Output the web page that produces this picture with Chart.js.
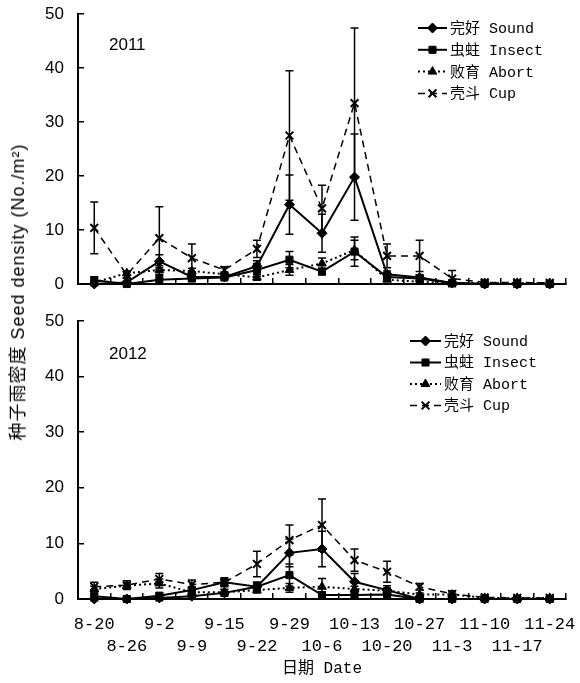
<!DOCTYPE html>
<html lang="zh">
<head>
<meta charset="UTF-8">
<title>种子雨密度</title>
<script src="https://cdn.jsdelivr.net/npm/chart.js@4"></script>
<style>
    body { margin: 0; background: #fff; }
    .wrap { position: relative; width: 580px; height: 683px; overflow: hidden; }
    .panel { position: absolute; left: 0; }
    .year { position: absolute; left: 109px; font: 17px 'Liberation Sans', Arial, sans-serif; line-height: 20px; }
    #ytitle {
        position: absolute; left: 16px; top: 292px;
        transform: translate(-50%, -50%) rotate(-90deg);
        white-space: nowrap; letter-spacing: 1px;
        font: 18px 'Liberation Sans', 'Noto Sans CJK SC', sans-serif;
    }
</style>
</head>
<body>
<div class="wrap">
    <canvas id="top" class="panel" style="top:0" width="580" height="300"></canvas>
    <canvas id="bottom" class="panel" style="top:300px" width="580" height="383"></canvas>
    <div class="year" style="top:35px">2011</div>
    <div class="year" style="top:344px">2012</div>
    <div id="ytitle">种子雨密度 Seed density (No./m²)</div>
</div>
<script>
// sampling dates
const dates = ['8-20', '8-26', '9-2', '9-9', '9-15', '9-22', '9-29', '10-6', '10-13', '10-20', '10-27', '11-3', '11-10', '11-17', '11-24'];
const seriesNames = ['完好 Sound', '虫蛀 Insect', '败育 Abort', '壳斗 Cup'];
const yTicks = [0, 10, 20, 30, 40, 50];

// 2011
const sound2011 = [0, 0.3, 4.2, 1.3, 1.3, 3.3, 14.7, 9.4, 19.8, 1.8, 1.2, 0.2, 0, 0, 0];
const soundErr2011 = [0.3, 0.2, 1.2, 0.4, 0.3, 1.0, 5.5, 3.5, 8.0, 0.6, 0.5, 0.2, 0, 0, 0];
const insect2011 = [0.7, 0, 0.8, 1.0, 1.2, 2.6, 4.5, 2.3, 6.0, 1.3, 1.0, 0.2, 0, 0, 0];
const insectErr2011 = [0.6, 0.2, 0.8, 0.5, 0.3, 1.2, 1.5, 0.6, 2.7, 0.8, 0.6, 0.2, 0, 0, 0];
const abort2011 = [0.3, 2.0, 2.6, 2.4, 1.8, 1.2, 2.6, 3.8, 6.3, 0.8, 0.4, 0.2, 0.2, 0.2, 0.2];
const abortErr2011 = [0.2, 0.4, 0.8, 0.5, 0.4, 0.5, 1.0, 1.0, 1.8, 0.3, 0.3, 0.2, 0.1, 0.1, 0.1];
const cup2011 = [10.4, 1.7, 8.5, 4.8, 2.6, 6.5, 27.5, 14.0, 33.5, 5.2, 5.2, 1.0, 0.3, 0.3, 0.2];
const cupErr2011 = [4.8, 0.6, 5.8, 2.6, 0.6, 1.6, 12.0, 4.3, 13.9, 2.2, 2.9, 1.5, 0.3, 0.3, 0.2];

// 2012
const sound2012 = [0, 0, 0.2, 0.5, 1.1, 2.2, 8.3, 9.0, 3.1, 1.6, 0, 0, 0, 0, 0];
const soundErr2012 = [0.3, 0.3, 0.5, 0.5, 0.6, 0.8, 2.5, 3.2, 1.5, 0.8, 0.3, 0.3, 0.2, 0.2, 0.2];
const insect2012 = [0.5, 0, 0.6, 1.6, 3.0, 2.2, 4.3, 0.7, 0.7, 0.8, 0, 0, 0, 0, 0];
const insectErr2012 = [0.5, 0.3, 0.5, 0.5, 0.8, 0.8, 2.0, 0.5, 0.5, 0.5, 0.3, 0.3, 0.2, 0.2, 0.2];
const abort2012 = [1.8, 2.4, 2.8, 1.2, 1.2, 1.6, 2.0, 2.2, 1.8, 1.5, 0.8, 0.8, 0.2, 0.2, 0.2];
const abortErr2012 = [0.5, 0.5, 0.8, 0.5, 0.5, 0.5, 0.8, 1.5, 0.5, 0.5, 0.3, 0.3, 0.2, 0.2, 0.2];
const cup2012 = [2.2, 2.5, 3.6, 2.6, 3.0, 6.3, 10.6, 13.3, 7.0, 4.9, 2.2, 0.9, 0.3, 0.2, 0.2];
const cupErr2012 = [0.8, 0.8, 1.0, 0.8, 0.6, 2.3, 2.7, 4.7, 2.0, 1.9, 0.6, 0.6, 0.3, 0.2, 0.2];

const monoFont = "'Liberation Mono', 'Noto Sans CJK SC', monospace";

// vertical error bars, drawn through the chart's own scales
const errorBars = {
    id: 'errorBars',
    afterDatasetsDraw(chart) {
        const ctx = chart.ctx, xs = chart.scales.x, ys = chart.scales.y;
        chart.data.datasets.forEach(ds => {
            if (!ds.errors) return;
            ctx.save();
            ctx.strokeStyle = '#000';
            ctx.lineWidth = 1.5;
            ds.data.forEach((v, i) => {
                const e = ds.errors[i];
                if (!e) return;
                const px = xs.getPixelForValue(i);
                const hi = ys.getPixelForValue(v + e), lo = ys.getPixelForValue(v - e);
                ctx.beginPath();
                ctx.moveTo(px, hi); ctx.lineTo(px, lo);
                ctx.moveTo(px - 4, hi); ctx.lineTo(px + 4, hi);
                ctx.moveTo(px - 4, lo); ctx.lineTo(px + 4, lo);
                ctx.stroke();
            });
            ctx.restore();
        });
    }
};

// legend with a line sample and the marker in the middle
const lineLegend = {
    id: 'lineLegend',
    afterDraw(chart, args, opts) {
        const ctx = chart.ctx;
        chart.data.datasets.forEach((ds, i) => {
            const y = opts.y + i * opts.dy;
            ctx.save();
            ctx.strokeStyle = '#000';
            ctx.fillStyle = '#000';
            ctx.lineWidth = ds.borderWidth;
            ctx.setLineDash(ds.borderDash || []);
            ctx.beginPath();
            ctx.moveTo(opts.x, y);
            ctx.lineTo(opts.x + opts.len, y);
            ctx.stroke();
            ctx.setLineDash([]);
            ctx.lineWidth = ds.pointBorderWidth;
            Chart.helpers.drawPoint(ctx, { pointStyle: ds.pointStyle, radius: ds.pointRadius, rotation: 0, borderWidth: ds.pointBorderWidth }, opts.x + opts.len / 2, y);
            ctx.font = '15px ' + monoFont;
            ctx.textBaseline = 'middle';
            ctx.fillText(ds.label, opts.x + opts.len + 3, y + 1);
            ctx.restore();
        });
    }
};

function makeDatasets(sound, soundErr, insect, insectErr, abort, abortErr, cup, cupErr) {
    const base = { borderColor: '#000', backgroundColor: '#000', pointBackgroundColor: '#000', pointBorderColor: '#000', clip: false, tension: 0 };
    return [
        { ...base, label: seriesNames[0], data: sound, errors: soundErr, borderWidth: 2, pointStyle: 'rectRot', pointRadius: 5, pointBorderWidth: 1 },
        { ...base, label: seriesNames[1], data: insect, errors: insectErr, borderWidth: 2, pointStyle: 'rect', pointRadius: 5, pointBorderWidth: 1 },
        { ...base, label: seriesNames[2], data: abort, errors: abortErr, borderWidth: 2, borderDash: [2, 3], pointStyle: 'triangle', pointRadius: 5, pointBorderWidth: 1 },
        { ...base, label: seriesNames[3], data: cup, errors: cupErr, borderWidth: 1.5, borderDash: [7, 5], pointStyle: 'crossRot', pointRadius: 5.5, pointBorderWidth: 2 }
    ];
}

function makeChart(id, datasets, withLabels, padTop, legendPos) {
    // staggered two-row date labels
    const labels = dates.map((d, i) => i % 2 === 0 ? [d, ''] : ['', d]);
    return new Chart(document.getElementById(id), {
        type: 'line',
        data: { labels: labels, datasets: datasets },
        options: {
            responsive: false,
            animation: false,
            layout: { padding: { top: padTop, right: 14, bottom: withLabels ? 0 : 16, left: 0 } },
            plugins: {
                legend: { display: false },
                tooltip: { enabled: false },
                lineLegend: legendPos
            },
            scales: {
                x: {
                    offset: true,
                    grid: { offset: true, drawOnChartArea: false, tickLength: -6, color: '#000', lineWidth: 1.5 },
                    border: { color: '#000', width: 2 },
                    ticks: {
                        display: withLabels, autoSkip: false, maxRotation: 0, padding: 20, color: '#000',
                        font: { family: monoFont, size: 17, lineHeight: 1.3 }
                    },
                    title: {
                        display: withLabels, text: '日期 Date', color: '#000',
                        font: { family: monoFont, size: 16 }, padding: { top: 0, bottom: 5 }
                    },
                    afterFit: s => { s.height = withLabels ? 84 : 0; s.paddingLeft = 0; s.paddingRight = 0; }
                },
                y: {
                    min: 0, max: 50,
                    afterBuildTicks: s => { s.ticks = yTicks.map(v => ({ value: v })); },
                    grid: { drawOnChartArea: false, tickLength: -6, color: '#000', lineWidth: 1.5 },
                    border: { color: '#000', width: 2 },
                    ticks: { padding: 20, color: '#000', font: { family: "'Liberation Sans', Arial, sans-serif", size: 17 } },
                    afterFit: s => { s.width = 78; s.paddingTop = 8; s.paddingBottom = 8; }
                }
            }
        },
        plugins: [errorBars, lineLegend]
    });
}

makeChart('top', makeDatasets(sound2011, soundErr2011, insect2011, insectErr2011, abort2011, abortErr2011, cup2011, cupErr2011), false, 14, { x: 418, y: 28, dy: 21.8, len: 29 });
makeChart('bottom', makeDatasets(sound2012, soundErr2012, insect2012, insectErr2012, abort2012, abortErr2012, cup2012, cupErr2012), true, 21, { x: 410, y: 41, dy: 21.5, len: 31 });
</script>
</body>
</html>
